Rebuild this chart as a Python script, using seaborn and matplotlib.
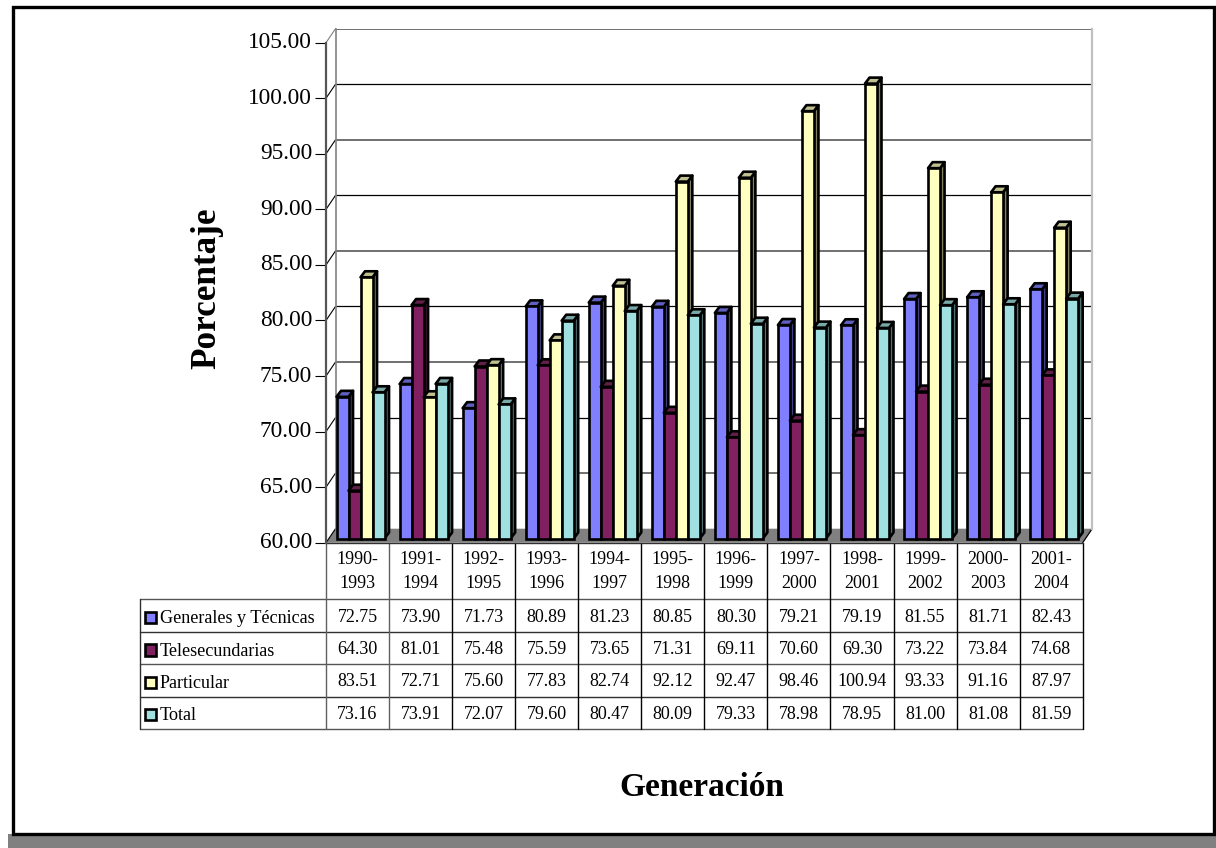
import matplotlib
matplotlib.use('Agg')
import matplotlib.pyplot as plt
import seaborn as sns
import pandas as pd
from matplotlib.patches import Polygon, Rectangle

generaciones = ['1990-\n1993', '1991-\n1994', '1992-\n1995', '1993-\n1996', '1994-\n1997', '1995-\n1998',
                '1996-\n1999', '1997-\n2000', '1998-\n2001', '1999-\n2002', '2000-\n2003', '2001-\n2004']
generales = [72.75, 73.90, 71.73, 80.89, 81.23, 80.85, 80.30, 79.21, 79.19, 81.55, 81.71, 82.43]
telesec = [64.30, 81.01, 75.48, 75.59, 73.65, 71.31, 69.11, 70.60, 69.30, 73.22, 73.84, 74.68]
particular = [83.51, 72.71, 75.60, 77.83, 82.74, 92.12, 92.47, 98.46, 100.94, 93.33, 91.16, 87.97]
total = [73.16, 73.91, 72.07, 79.60, 80.47, 80.09, 79.33, 78.98, 78.95, 81.00, 81.08, 81.59]
series_names = ['Generales y Técnicas', 'Telesecundarias', 'Particular', 'Total']
series_vals = [generales, telesec, particular, total]
yticks = [60, 65, 70, 75, 80, 85, 90, 95, 100, 105]

colors_front = ['#8080ff', '#802060', '#ffffc0', '#a0e0e0']
colors_side = ['#404080', '#401030', '#808060', '#507070']
colors_top = ['#6060c0', '#602048', '#c0c090', '#78a8a8']

W, H = 1216, 848

sns.set_style('white')
plt.rcParams['font.family'] = ['Liberation Serif', 'DejaVu Serif']
plt.rcParams['text.color'] = 'black'
plt.rcParams['axes.labelcolor'] = 'black'
plt.rcParams['ytick.color'] = 'black'


def px_axes(fig, left, right, top, bottom):
    # axes rectangle given in picture pixels
    return fig.add_axes([left / W, 1 - bottom / H, (right - left) / W, (bottom - top) / H])


rows = []
for name, vals in zip(series_names, series_vals):
    for g, v in zip(generaciones, vals):
        rows.append({'gen': g, 'serie': name, 'pct': v})
df = pd.DataFrame(rows)

fig = plt.figure(figsize=(W / 100, H / 100), dpi=100, facecolor='white')

# overlay in pixels: frame, floor, table
ax_px = fig.add_axes([0, 0, 1, 1], zorder=0)
ax_px.set_xlim(0, W)
ax_px.set_ylim(H, 0)
ax_px.axis('off')

ax_px.add_patch(Rectangle((8, 834), W - 8, 14, fc='#808080', ec='none'))
ax_px.add_patch(Rectangle((12.5, 6.5), W - 14.5, 827, fc='none', ec='black', lw=2.4))

x0, x1 = 326, 1082.7
y0, y1 = 542.7, 42.7
dx, dy = 9.5, -14
cell = (x1 - x0) / 12
ppu = (y0 - y1) / 45.0

ax_px.add_patch(Polygon([(x0, y0), (x1, y0), (x1 + dx, y0 + dy), (x0 + dx, y0 + dy)], fc='#808080', ec='none'))
ax_px.plot([x1, x1 + dx], [y0, y0 + dy], color='black', lw=0.9)
for i, t in enumerate(yticks):
    yy = y0 - (t - 60) * ppu
    ax_px.plot([x0, x0 + dx], [yy, yy + dy], color='#808080' if t == 105 else 'black', lw=0.8)

# back wall
ax_back = px_axes(fig, x0 + dx, x1 + dx, y1 + dy, y0 + dy)
ax_back.set_zorder(1)
ax_back.patch.set_alpha(0)
ax_back.set_ylim(60, 105)
ax_back.set_xticks([])
ax_back.set_yticks(yticks)
ax_back.tick_params(left=False, labelleft=False)
for t in yticks[1:]:
    if (t // 5) % 2 == 1:
        ax_back.axhline(t, color='#707070', lw=1.4, zorder=1)
    else:
        ax_back.axhline(t, color='black', lw=0.9, zorder=1)
for side, col, lw in [('left', '#808080', 1.2), ('right', '#c0c0c0', 1.6)]:
    ax_back.spines[side].set_color(col)
    ax_back.spines[side].set_linewidth(lw)
ax_back.spines['top'].set_visible(False)
ax_back.spines['bottom'].set_visible(False)

# front plane with the value axis
ax_front = px_axes(fig, x0, x1, y1, y0)
ax_front.set_zorder(2)
ax_front.patch.set_alpha(0)
ax_front.set_ylim(60, 105)
ax_front.set_xticks([])
ax_front.set_yticks(yticks)
ax_front.set_yticklabels([f'{t:.2f}' for t in yticks], va='center')
ax_front.tick_params(axis='y', left=True, length=8, width=0.8, color='black', pad=2, labelsize=16.8)
for s in ['top', 'right', 'bottom']:
    ax_front.spines[s].set_visible(False)
ax_front.spines['left'].set_color('#555555')
ax_front.spines['left'].set_linewidth(1.6)
ax_front.set_ylabel('Porcentaje', fontsize=25.3, fontweight='bold', va='center')
ax_front.yaxis.set_label_coords((207 - x0) / (x1 - x0), (y0 - 288) / (y0 - y1))

# bars sit a little inside the floor
ax_bar = px_axes(fig, x0 + 3, x1 + 3, y1 - 4.2, y0 - 4.2)
ax_bar.set_zorder(3)
ax_bar.patch.set_alpha(0)
sns.barplot(data=df, x='gen', y='pct', hue='serie', hue_order=series_names, order=generaciones,
            palette=colors_front, saturation=1, width=48 / cell, gap=0, edgecolor='black',
            linewidth=1.9, legend=False, ax=ax_bar)
ax_bar.set_ylim(60, 105)
ax_bar.set_xlim(-0.5, 11.5)
ax_bar.axis('off')

depth_x = 4.5 / cell
depth_y = 6 / ppu
for i, p in enumerate(list(ax_bar.patches)):
    s = i // len(generaciones)
    val = p.get_height()
    p.set_y(60)
    p.set_height(val - 60)
    p.set_clip_on(False)
    p.set_zorder(3 + s + 0.5)
    xl, xr = p.get_x(), p.get_x() + p.get_width()
    side = Polygon([(xr, 60), (xr + depth_x, 60 + depth_y), (xr + depth_x, val + depth_y), (xr, val)],
                   fc=colors_side[s], ec='black', lw=1.9, zorder=3 + s, clip_on=False, joinstyle='round')
    top = Polygon([(xl, val), (xr, val), (xr + depth_x, val + depth_y), (xl + depth_x, val + depth_y)],
                  fc=colors_top[s], ec='black', lw=1.9, zorder=3 + s, clip_on=False, joinstyle='round')
    ax_bar.add_patch(side)
    ax_bar.add_patch(top)

# data table under the chart
row_y = [599.3, 632.3, 664.3, 696.7, 728.7]
tx0 = 140.3
for k, yy in enumerate(row_y):
    ax_px.plot([tx0, x1], [yy, yy], color='#303030' if k % 2 else '#555555', lw=1.0)
ax_px.plot([tx0, tx0], [row_y[0], row_y[-1]], color='#303030', lw=1.0)
for j in range(13):
    xx = x0 + j * cell
    ax_px.plot([xx, xx], [y0, row_y[-1]], color='#606060' if j < 2 else 'black', lw=1.0)
ax_px.plot([x0, x1], [y0, y0], color='#303030', lw=1.0)

for j, g in enumerate(generaciones):
    cx = x0 + (j + 0.5) * cell
    top_line, bottom_line = g.split('\n')
    ax_px.text(cx, 560, top_line, ha='center', va='center', fontsize=13)
    ax_px.text(cx, 584, bottom_line, ha='center', va='center', fontsize=13)

for r, (name, vals) in enumerate(zip(series_names, series_vals)):
    cy = (row_y[r] + row_y[r + 1]) / 2
    ax_px.add_patch(Rectangle((144.5, cy - 4), 11.5, 11.5, fc=colors_front[r], ec='black', lw=1.9))
    ax_px.text(160, cy + 3, name, ha='left', va='center', fontsize=13.1)
    for j, v in enumerate(vals):
        ax_px.text(x0 + (j + 0.5) * cell, cy + 1.5, f'{v:.2f}', ha='center', va='center', fontsize=13)

ax_px.text(702, 788, 'Generación', ha='center', va='center', fontsize=24, fontweight='bold')

fig.savefig('out.png', dpi=100, facecolor='white')
